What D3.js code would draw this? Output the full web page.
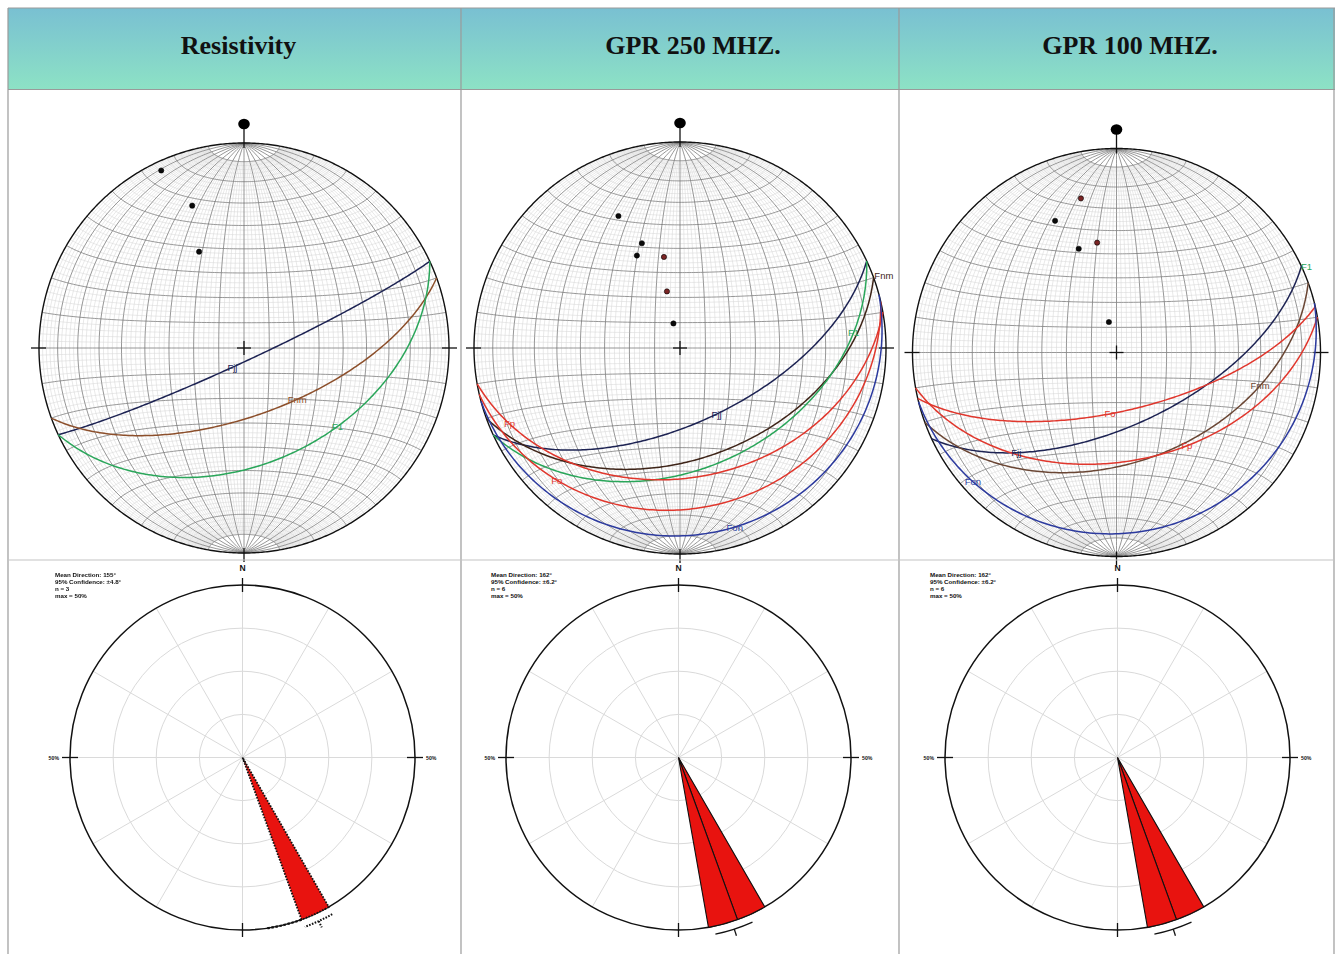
<!DOCTYPE html>
<html><head><meta charset="utf-8">
<script src="https://cdn.jsdelivr.net/npm/d3@7"></script>
<style>body{margin:0;background:#fff;} svg{display:block}</style>
</head><body><svg id="c" width="1335" height="954"></svg>
<script>
// ---------------- DATA ----------------
const titles = ["Resistivity", "GPR 250 MHZ.", "GPR 100 MHZ."];

// planes: dip direction / dip (degrees), label placed at given trend on the plane
const resNames = ["Fjj", "Fnm", "F1"];
const resDipDir = [155, 160, 155];
const resDip = [85, 63, 43];
const resLabelTrend = [211, 134, 130];

const g250Names = ["Fjj", "Fnm", "F1", "Fp", "Fo", "Fon"];
const g250DipDir = [155, 160, 155, 170, 167, 165];
const g250Dip = [60, 45, 41, 37, 23, 10];
const g250LabelTrend = [151, 70.5, 85, 246, 223, 163];

const g100Names = ["Fjj", "Fnm", "Fo", "Fp", "Fon"];
const g100DipDir = [155, 160, 167, 170, 166];
const g100Dip = [60.5, 45, 66.5, 45.5, 12.5];
const g100LabelTrend = [225, 103, 186, 143, 228];
// extra label (F1) sitting at the end of the Fjj trace in GPR 100
const g100ExtraLabel = ["F1", "Fjj", 66];

// rose diagrams
const roseBinStart = [[150], [150, 160], [150, 160]];
const roseBinPercent = [[50], [50, 50], [50, 50]];
const roseBinWidth = 10;
const roseMean = [155, 162, 162];
const roseConf = [4.8, 6.2, 6.2];
const roseN = [3, 6, 6];
const roseMax = [50, 50, 50];
const roseRings = [12.5, 25, 37.5];
const roseSpokes = [0, 30, 60, 90, 120, 150, 180, 210, 240, 270, 300, 330];

// ---------------- STYLE / LAYOUT ----------------
const colX = [8, 461, 899, 1334];
const headTop = 8, headBot = 89.5, rowDiv = 560;
const titleX = [238.5, 693, 1130];
const nets = [{cx: 244, cy: 348, R: 205}, {cx: 680, cy: 348, R: 206}, {cx: 1116.5, cy: 352.5, R: 204}];
const roses = [{cx: 242.5, cy: 757.5, R: 172.5}, {cx: 678.5, cy: 757.5, R: 172.5}, {cx: 1117.5, cy: 757.5, R: 172.5}];
const fnmColor = ["#8c4f2b", "#3e2418", "#6a4634"];
const baseColor = {Fjj: "#1d2353", F1: "#2aa65a", Fp: "#e0372d", Fo: "#e0372d", Fon: "#2c3a9e"};
const sans = "Liberation Sans, Arial, sans-serif";

const svg = d3.select("#c");
const defs = svg.append("defs");
const grad = defs.append("linearGradient").attr("id", "hg").attr("x1", 0).attr("y1", 0).attr("x2", 0).attr("y2", 1);
grad.append("stop").attr("offset", "0%").attr("stop-color", "#79c0d2");
grad.append("stop").attr("offset", "100%").attr("stop-color", "#8de2c5");
defs.append("filter").attr("id", "blur").append("feGaussianBlur").attr("stdDeviation", 0.6);

// header
svg.append("rect").attr("x", colX[0]).attr("y", headTop).attr("width", 1335 - colX[0]).attr("height", headBot - headTop).attr("fill", "url(#hg)");
titles.forEach((t, i) => {
  svg.append("text").attr("x", titleX[i]).attr("y", 54).attr("text-anchor", "middle")
    .attr("font-family", "Liberation Serif, Times New Roman, serif").attr("font-weight", "bold")
    .attr("font-size", 26).attr("fill", "#111").text(t);
});

// ---------------- helpers ----------------
const rad = d => d * Math.PI / 180, deg = r => r * 180 / Math.PI;
function vecToLonLat(N, E, D) {
  return [deg(Math.atan2(E, D)), deg(Math.asin(Math.max(-1, Math.min(1, N))))];
}
function lineLL(trend, plunge) {
  const t = rad(trend), p = rad(plunge);
  return vecToLonLat(Math.cos(p) * Math.cos(t), Math.cos(p) * Math.sin(t), Math.sin(p));
}
function planeLL(dd, dip) {
  const s = rad(dd - 90), d = rad(dd), dp = rad(dip);
  const S = [Math.cos(s), Math.sin(s), 0];
  const V = [Math.cos(dp) * Math.cos(d), Math.cos(dp) * Math.sin(d), Math.sin(dp)];
  return d3.range(0, 180.001, 1).map(r => {
    const c = Math.cos(rad(r)), sn = Math.sin(rad(r));
    return vecToLonLat(c * S[0] + sn * V[0], c * S[1] + sn * V[1], Math.max(0, c * S[2] + sn * V[2]));
  });
}
function apparentLL(dd, dip, trend) {
  const a = deg(Math.atan(Math.tan(rad(dip)) * Math.cos(rad(trend - dd))));
  return lineLL(trend, a);
}

// graticule geometry
const minorLines = [], majorLines = [];
d3.range(-88, 89, 2).forEach(lon => {
  if (lon % 10 !== 0) minorLines.push(d3.range(-80, 80.001, 2).map(l => [lon, l]));
});
d3.range(-78, 79, 2).forEach(lat => {
  if (lat % 10 !== 0) minorLines.push(d3.range(-90, 90.001, 1).map(l => [l, lat]));
});
d3.range(-80, 81, 10).forEach(lon => majorLines.push(d3.range(-90, 90.001, 2).map(l => [lon, l])));
d3.range(-80, 81, 10).forEach(lat => majorLines.push(d3.range(-90, 90.001, 1).map(l => [l, lat])));

const panelsPlanes = [
  {names: resNames, dd: resDipDir, dip: resDip, lt: resLabelTrend},
  {names: g250Names, dd: g250DipDir, dip: g250Dip, lt: g250LabelTrend},
  {names: g100Names, dd: g100DipDir, dip: g100Dip, lt: g100LabelTrend}
];

// ---------------- stereonets ----------------
nets.forEach((n, pi) => {
  const proj = d3.geoAzimuthalEqualArea().rotate([0, 0]).scale(n.R / Math.SQRT2).translate([n.cx, n.cy]).precision(0.1);
  const path = d3.geoPath(proj);
  const g = svg.append("g");
  const prim = d3.geoCircle().center([0, 0]).radius(90).precision(0.5)();
  g.append("path").attr("d", path(prim)).attr("fill", "#fff");
  g.append("path").attr("d", path({type: "MultiLineString", coordinates: minorLines}))
    .attr("fill", "none").attr("stroke", "#d2d2d2").attr("stroke-width", 0.5);
  g.append("path").attr("d", path({type: "MultiLineString", coordinates: majorLines}))
    .attr("fill", "none").attr("stroke", "#747474").attr("stroke-width", 0.75);
  g.append("path").attr("d", path(prim)).attr("fill", "none").attr("stroke", "#111").attr("stroke-width", 1.4);

  const ln = (x1, y1, x2, y2) => g.append("line").attr("x1", x1).attr("y1", y1).attr("x2", x2).attr("y2", y2).attr("stroke", "#111").attr("stroke-width", 1.3);
  ln(n.cx, n.cy - n.R - 19, n.cx, n.cy - n.R + 5);
  g.append("ellipse").attr("cx", n.cx).attr("cy", n.cy - n.R - 19).attr("rx", 5.8).attr("ry", 5.2).attr("fill", "#000");
  ln(n.cx - n.R - 8, n.cy, n.cx - n.R + 7, n.cy);
  ln(n.cx + n.R - 7, n.cy, n.cx + n.R + 8, n.cy);
  ln(n.cx, n.cy + n.R - 5, n.cx, n.cy + n.R + 9);
  ln(n.cx - 7, n.cy, n.cx + 7, n.cy);
  ln(n.cx, n.cy - 7, n.cx, n.cy + 7);

  const P = panelsPlanes[pi];
  const colorOf = nm => nm === "Fnm" ? fnmColor[pi] : baseColor[nm];
  P.names.forEach((nm, k) => {
    g.append("path").attr("d", path({type: "LineString", coordinates: planeLL(P.dd[k], P.dip[k])}))
      .attr("fill", "none").attr("stroke", colorOf(nm)).attr("stroke-width", 1.5);
  });
  // poles to planes
  P.names.forEach((nm, k) => {
    const p = proj(lineLL(P.dd[k] + 180, 90 - P.dip[k]));
    g.append("circle").attr("cx", p[0]).attr("cy", p[1]).attr("r", 2.6)
      .attr("fill", (nm === "Fp" || nm === "Fo") ? "#7a2424" : "#0a0a0a").attr("stroke", "#000").attr("stroke-width", 0.6);
  });
  // labels
  const labels = P.names.map((nm, k) => ({t: nm, c: colorOf(nm), p: proj(apparentLL(P.dd[k], P.dip[k], P.lt[k])), edge: nm === "Fnm" && pi === 1}));
  if (pi === 2) {
    const k = P.names.indexOf(g100ExtraLabel[1]);
    labels.push({t: g100ExtraLabel[0], c: baseColor.F1, p: proj(apparentLL(P.dd[k], P.dip[k], g100ExtraLabel[2])), edge: true});
  }
  labels.forEach(l => {
    g.append("text").attr("x", l.p[0] + (l.edge ? 1 : 0)).attr("y", l.p[1] + (l.edge ? -4 : 0))
      .attr("text-anchor", l.edge ? "start" : "middle").attr("dominant-baseline", "central")
      .attr("font-family", sans).attr("font-size", 9.5).attr("fill", l.c).text(l.t);
  });
});

// ---------------- rose diagrams ----------------
roses.forEach((o, i) => {
  const g = svg.append("g").attr("transform", `translate(${o.cx},${o.cy})`);
  const r = d3.scaleLinear().domain([0, roseMax[i]]).range([0, o.R]);
  const dotted = i === 0;
  roseRings.forEach(v => g.append("circle").attr("r", r(v)).attr("fill", "none").attr("stroke", "#dadada").attr("stroke-width", 1));
  roseSpokes.forEach(a => g.append("line").attr("x1", 0).attr("y1", 0)
    .attr("x2", o.R * Math.sin(rad(a))).attr("y2", -o.R * Math.cos(rad(a))).attr("stroke", "#dadada").attr("stroke-width", 1));
  g.append("circle").attr("r", o.R).attr("fill", "none").attr("stroke", "#111").attr("stroke-width", 1.5);
  const tk = (x1, y1, x2, y2) => g.append("line").attr("x1", x1).attr("y1", y1).attr("x2", x2).attr("y2", y2).attr("stroke", "#111").attr("stroke-width", 1.3);
  tk(0, -o.R - 7, 0, -o.R + 7); tk(0, o.R - 7, 0, o.R + 7);
  tk(-o.R - 8, 0, -o.R + 8, 0); tk(o.R - 8, 0, o.R + 8, 0);
  g.append("text").attr("x", 0).attr("y", -o.R - 14).attr("text-anchor", "middle").attr("font-family", sans)
    .attr("font-weight", "bold").attr("font-size", 8.5).attr("fill", "#111").text("N");
  g.append("text").attr("x", -o.R - 11).attr("y", 0).attr("text-anchor", "end").attr("dominant-baseline", "central")
    .attr("font-family", sans).attr("font-weight", "bold").attr("font-size", 5.2).attr("fill", "#111").text(roseMax[i] + "%");
  g.append("text").attr("x", o.R + 11).attr("y", 0).attr("text-anchor", "start").attr("dominant-baseline", "central")
    .attr("font-family", sans).attr("font-weight", "bold").attr("font-size", 5.2).attr("fill", "#111").text(roseMax[i] + "%");
  // petals
  const arc = d3.arc().innerRadius(0);
  roseBinStart[i].forEach((b, k) => {
    g.append("path").attr("d", arc.outerRadius(r(roseBinPercent[i][k])).startAngle(rad(b)).endAngle(rad(b + roseBinWidth))())
      .attr("fill", "#e8130f").attr("stroke", "#111").attr("stroke-width", dotted ? 1.8 : 1.1)
      .attr("stroke-dasharray", dotted ? "1.6,1.4" : null);
  });
  if (dotted) {
    const pp = d3.path();
    pp.arc(0, 0, o.R, rad(160) - Math.PI / 2, rad(172) - Math.PI / 2);
    g.append("path").attr("d", pp.toString()).attr("fill", "none").attr("stroke", "#111").attr("stroke-width", 2.2).attr("stroke-dasharray", "2.5,1.6");
  }
  // confidence arc
  const cr = o.R + 8;
  const cp = d3.path();
  cp.arc(0, 0, cr, rad(roseMean[i] - roseConf[i]) - Math.PI / 2, rad(roseMean[i] + roseConf[i]) - Math.PI / 2);
  g.append("path").attr("d", cp.toString()).attr("fill", "none").attr("stroke", "#111").attr("stroke-width", dotted ? 2 : 1.3)
    .attr("stroke-dasharray", dotted ? "1.6,1.4" : null);
  const ma = rad(roseMean[i]);
  g.append("line").attr("x1", cr * Math.sin(ma)).attr("y1", -cr * Math.cos(ma)).attr("x2", (cr + 7) * Math.sin(ma)).attr("y2", -(cr + 7) * Math.cos(ma))
    .attr("stroke", "#111").attr("stroke-width", dotted ? 2 : 1.3).attr("stroke-dasharray", dotted ? "1.6,1.4" : null);
  // stats text
  const lines = ["Mean Direction: " + roseMean[i] + "°", "95% Confidence: ±" + roseConf[i] + "°", "n = " + roseN[i], "max = " + roseMax[i] + "%"];
  const tx = svg.append("text").attr("font-family", sans).attr("font-weight", "bold").attr("font-size", 6.2).attr("fill", "#111")
    .attr("filter", dotted ? "url(#blur)" : null);
  lines.forEach((t, k) => tx.append("tspan").attr("x", o.cx - o.R - 15).attr("y", 577 + k * 7).text(t));
});

// ---------------- table lines ----------------
const grid = svg.append("g").attr("stroke", "#9a9a9a").attr("stroke-width", 1.2).attr("fill", "none");
grid.append("line").attr("x1", colX[0]).attr("y1", headTop).attr("x2", 1335).attr("y2", headTop);
grid.append("line").attr("x1", colX[0]).attr("y1", headBot).attr("x2", 1335).attr("y2", headBot);
colX.forEach(x => grid.append("line").attr("x1", x).attr("y1", headTop).attr("x2", x).attr("y2", 954));
svg.append("line").attr("x1", colX[0]).attr("y1", rowDiv).attr("x2", 1335).attr("y2", rowDiv).attr("stroke", "#c4c4c4").attr("stroke-width", 1.2);
</script>
</body></html>
